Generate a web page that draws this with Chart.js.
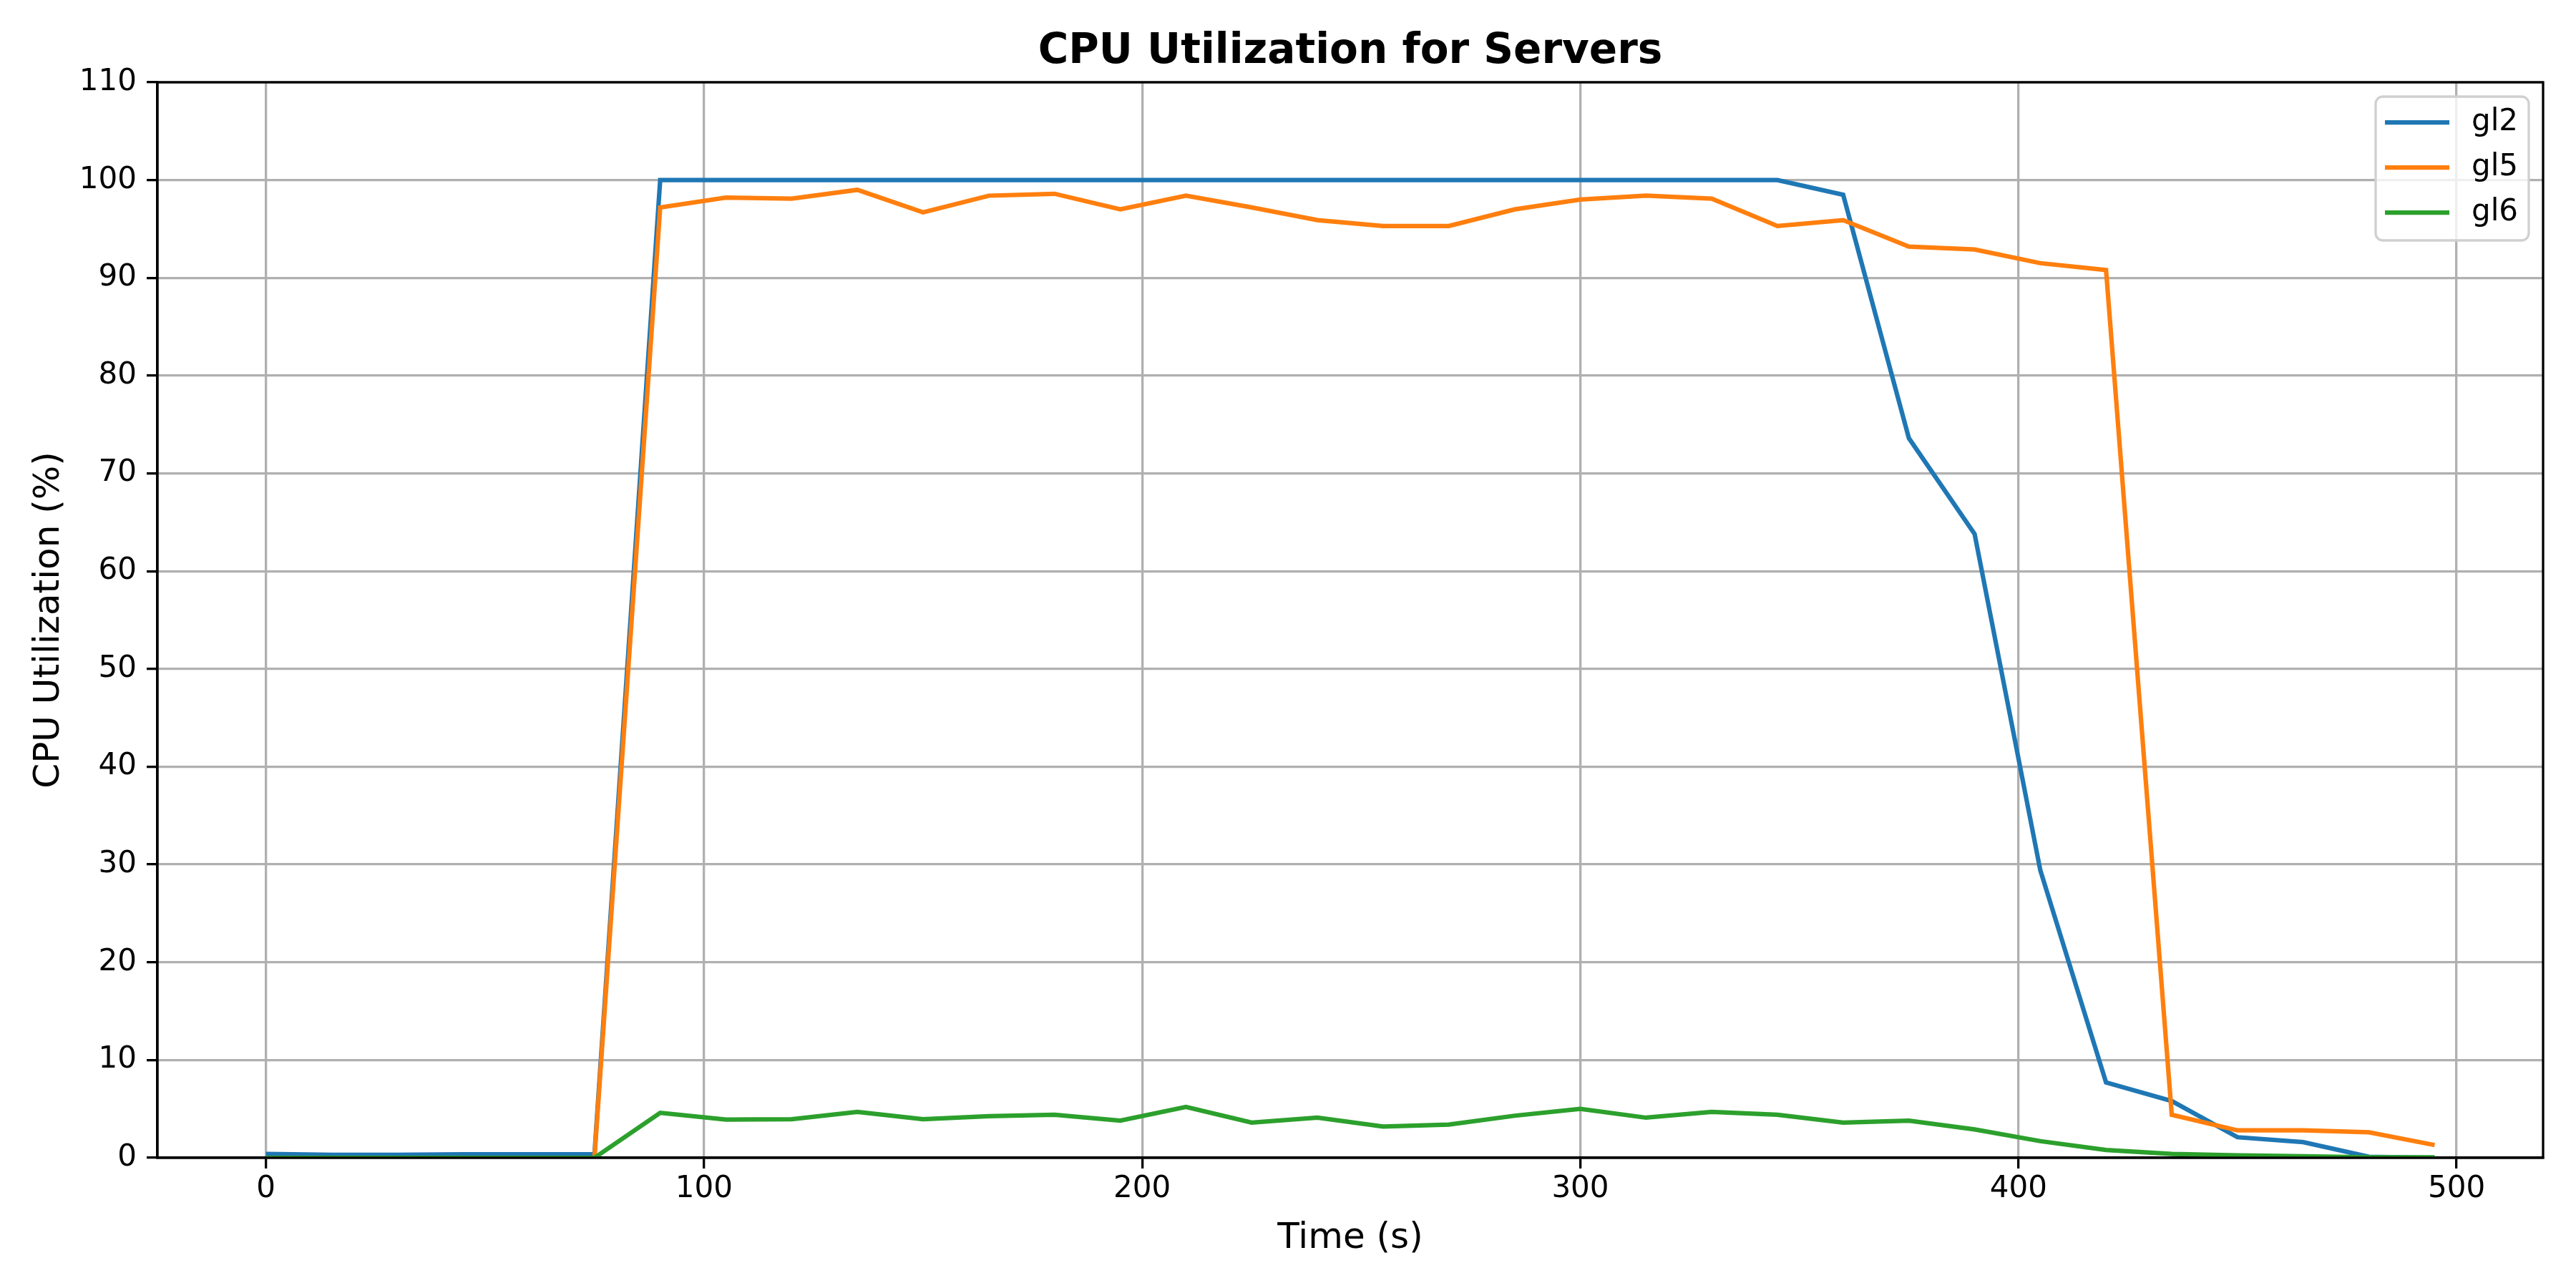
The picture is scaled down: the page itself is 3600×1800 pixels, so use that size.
<!DOCTYPE html>
<html>
<head>
<meta charset="utf-8">
<script src="https://cdn.jsdelivr.net/npm/chart.js@4/dist/chart.umd.min.js"></script>
<style>
  html, body { margin: 0; padding: 0; background: #fff; }
  #wrap { width: 3600px; height: 1800px; }
</style>
</head>
<body>
<div id="wrap"><canvas id="cpuChart" width="3600" height="1800"></canvas></div>
<script>
// Sample times (s)
const timeSec = [0, 15, 30, 45, 60, 75, 90, 105, 120, 135, 150, 165, 180, 195, 210, 225, 240,
  255, 270, 285, 300, 315, 330, 345, 360, 375, 390, 405, 420, 435, 450, 465, 480, 495];

// CPU utilization per server (%)
const gl2 = [0.4, 0.3, 0.3, 0.35, 0.35, 0.35, 100, 100, 100, 100, 100, 100, 100, 100, 100, 100, 100,
  100, 100, 100, 100, 100, 100, 100, 98.5, 73.6, 63.8, 29.4, 7.7, 5.8, 2.1, 1.6, 0.1, 0];
const gl5 = [0, 0, 0, 0, 0, 0, 97.2, 98.2, 98.1, 99.0, 96.7, 98.4, 98.6, 97.0, 98.4, 97.2, 95.9,
  95.3, 95.3, 97.0, 98.0, 98.4, 98.1, 95.3, 95.9, 93.2, 92.9, 91.5, 90.8, 4.4, 2.8, 2.8, 2.6, 1.3];
const gl6 = [0, 0, 0, 0, 0, 0, 4.6, 3.9, 3.95, 4.7, 3.95, 4.25, 4.4, 3.8, 5.2, 3.6, 4.1,
  3.2, 3.4, 4.3, 5.0, 4.1, 4.7, 4.4, 3.6, 3.8, 2.9, 1.7, 0.8, 0.4, 0.25, 0.15, 0.05, 0.05];

const seriesNames = ['gl2', 'gl5', 'gl6'];
const seriesColors = ['#1f77b4', '#ff7f0e', '#2ca02c'];
const xTicks = [0, 100, 200, 300, 400, 500];

const FONT = 'DejaVu Sans';

const toPoints = vals => vals.map((v, i) => ({ x: timeSec[i], y: v }));

// top/right spines, title and matplotlib-style legend
const decorations = {
  id: 'decorations',
  afterDraw(chart) {
    const { ctx, chartArea: a } = chart;
    ctx.save();
    ctx.strokeStyle = '#000';
    ctx.lineWidth = 3.3;
    ctx.strokeRect(a.left, a.top, a.right - a.left, a.bottom - a.top);

    ctx.fillStyle = '#000';
    ctx.font = `bold 58px "${FONT}"`;
    ctx.textAlign = 'center';
    ctx.textBaseline = 'middle';
    ctx.fillText('CPU Utilization for Servers', (a.left + a.right) / 2, 73);

    // legend box
    const bx = 3320, by = 135, bw = 214, bh = 201, r = 10;
    ctx.beginPath();
    ctx.moveTo(bx + r, by);
    ctx.arcTo(bx + bw, by, bx + bw, by + bh, r);
    ctx.arcTo(bx + bw, by + bh, bx, by + bh, r);
    ctx.arcTo(bx, by + bh, bx, by, r);
    ctx.arcTo(bx, by, bx + bw, by, r);
    ctx.closePath();
    ctx.fillStyle = 'rgba(255,255,255,0.8)';
    ctx.fill();
    ctx.strokeStyle = '#d0d0d0';
    ctx.lineWidth = 3.3;
    ctx.stroke();

    ctx.font = `42px "${FONT}"`;
    ctx.textAlign = 'left';
    seriesNames.forEach((name, i) => {
      const y = 171 + i * 63;
      ctx.strokeStyle = seriesColors[i];
      ctx.lineWidth = 6.25;
      ctx.beginPath();
      ctx.moveTo(3333, y);
      ctx.lineTo(3423, y);
      ctx.stroke();
      ctx.fillStyle = '#000';
      ctx.fillText(name, 3454, y);
    });
    ctx.restore();
  }
};

const ctx = document.getElementById('cpuChart').getContext('2d');
new Chart(ctx, {
  type: 'line',
  data: {
    datasets: [gl2, gl5, gl6].map((vals, i) => ({
      label: seriesNames[i],
      data: toPoints(vals),
      borderColor: seriesColors[i],
      backgroundColor: seriesColors[i],
      borderWidth: 6.25,
      pointRadius: 0,
      tension: 0,
      fill: false,
      order: 3 - i
    }))
  },
  options: {
    responsive: false,
    devicePixelRatio: 1,
    animation: false,
    layout: { padding: { top: 115, right: 46, left: 0, bottom: 0 } },
    plugins: {
      legend: { display: false },
      title: { display: false },
      tooltip: { enabled: false }
    },
    scales: {
      x: {
        type: 'linear',
        min: -24.75,
        max: 519.75,
        afterBuildTicks: scale => { scale.ticks = xTicks.map(v => ({ value: v })); },
        afterFit: scale => { scale.height = 182; },
        grid: { color: '#b0b0b0', lineWidth: 3.3, tickColor: '#000', tickLength: 15, drawOnChartArea: true },
        border: { display: true, color: '#000', width: 3.3 },
        ticks: { color: '#000', font: { family: FONT, size: 42 }, padding: 4, maxRotation: 0 },
        title: {
          display: true, text: 'Time (s)', color: '#000',
          font: { family: FONT, size: 50 }, padding: { top: 0, bottom: 39 }
        }
      },
      y: {
        min: 0,
        max: 110,
        afterFit: scale => { scale.width = 220; },
        grid: { color: '#b0b0b0', lineWidth: 3.3, tickColor: '#000', tickLength: 15 },
        border: { display: true, color: '#000', width: 3.3 },
        ticks: { stepSize: 10, color: '#000', font: { family: FONT, size: 42 }, padding: 14 },
        title: {
          display: true, text: 'CPU Utilization (%)', color: '#000',
          font: { family: FONT, size: 50 }, padding: { top: 39, bottom: 0 }
        }
      }
    }
  },
  plugins: [decorations]
});
</script>
</body>
</html>
